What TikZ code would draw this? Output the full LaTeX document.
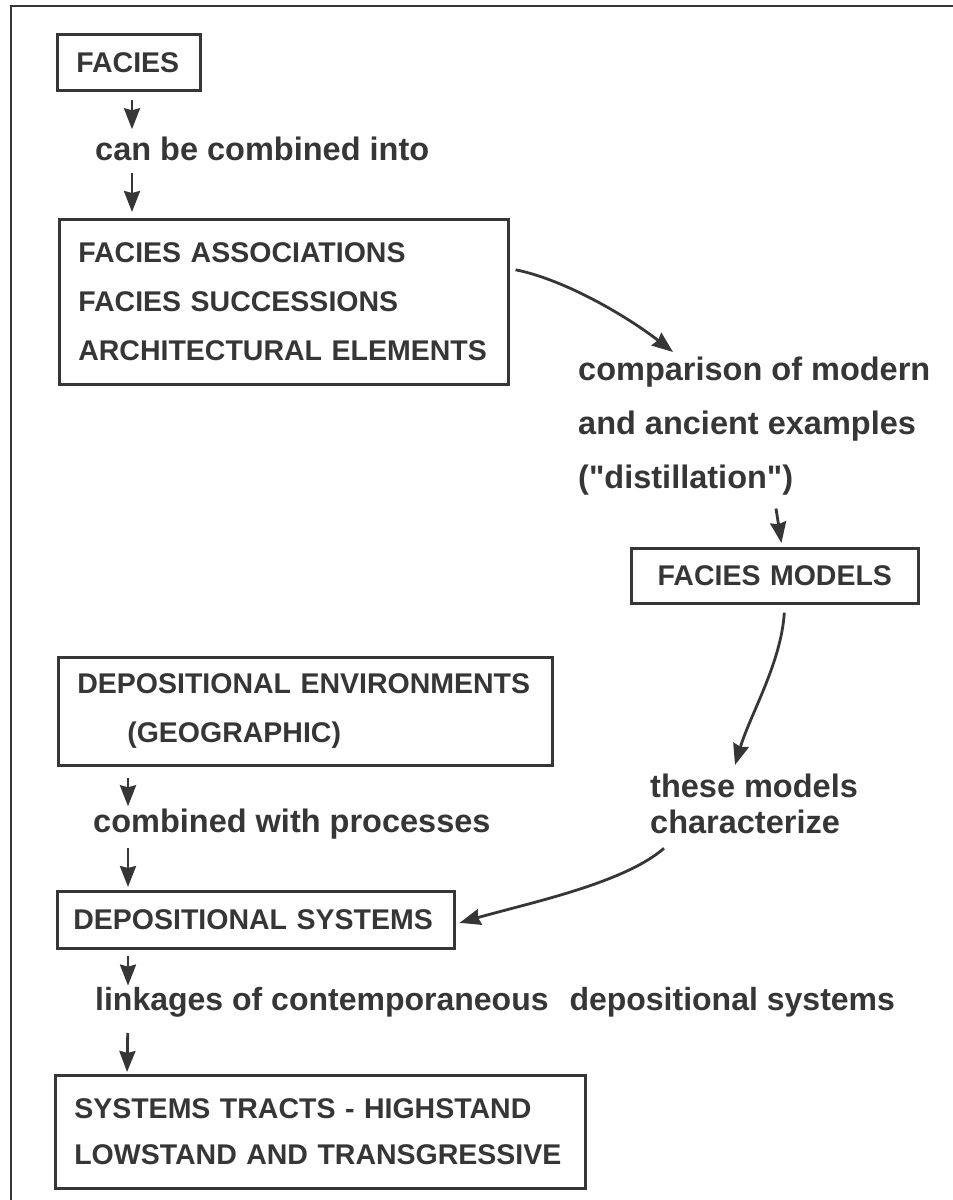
\documentclass[tikz,border=0pt]{standalone}
\usepackage{fontspec}
\setmainfont{Liberation Sans}
\usetikzlibrary{arrows.meta,positioning}
\definecolor{ink}{HTML}{363636}

\begin{document}
\begin{tikzpicture}[
  x=1pt, y=-1pt,
  every node/.style={text=ink},
  stagebox/.style={rectangle, draw=ink, line width=2.6pt, anchor=north west,
    inner xsep=19pt, inner ysep=0pt, align=left,
    execute at begin node={\hyphenpenalty=10000\exhyphenpenalty=10000},
    font=\fontsize{28.5}{49}\selectfont\bfseries},
  steplabel/.style={inner sep=0pt, align=left,
    font=\fontsize{32.5}{54}\selectfont\bfseries},
  arrow/.style={-{Stealth[length=21pt,width=16pt,inset=2pt]}, line width=2.8pt, draw=ink},
  frameline/.style={line width=2.4pt, draw=ink},
]
\useasboundingbox (0,0) rectangle (953,1200);
\draw[frameline] (11,1200) -- (11,6) -- (953,6);

% Boxes
\node[stagebox, text width=105pt, minimum height=56pt] (facies) at (56,33) {FACIES};
\node[stagebox, text width=411pt, minimum height=165pt] (assoc) at (58,218)
  {FACIES ASSOCIATIONS\\FACIES SUCCESSIONS\\ARCHITECTURAL ELEMENTS};
\node[stagebox, text width=249pt, minimum height=55pt, align=center] (fmodels) at (630,547) {FACIES MODELS};
\node[stagebox, text width=456pt, minimum height=108pt] (depenv) at (57,656)
  {DEPOSITIONAL ENVIRONMENTS\\\hspace*{50pt}(GEOGRAPHIC)};
\node[stagebox, text width=365pt, inner xsep=16pt, minimum height=57pt] (depsys) at (56,890) {DEPOSITIONAL SYSTEMS};
\node[stagebox, text width=492pt, minimum height=113pt, font=\fontsize{28.5}{46}\selectfont\bfseries] (tracts) at (54,1074)
  {SYSTEMS TRACTS - HIGHSTAND\\LOWSTAND AND TRANSGRESSIVE};

% Labels
\node[steplabel, anchor=base west] (lblcombine) at (95,160) {can be combined into};
\node[steplabel, anchor=north west] (lblcompare) at (578,357)
  {comparison of modern\\and ancient examples\\(\textquotedbl distillation\textquotedbl)};
\node[steplabel, anchor=north west, font=\fontsize{32.5}{36}\selectfont\bfseries] (lblchar) at (650,774)
  {these models\\characterize};
\node[steplabel, anchor=base west] (lblprocess) at (93,832) {combined with processes};
\node[steplabel, anchor=base west, font=\fontsize{32}{36}\selectfont\bfseries] (lbllink) at (95,1010)
  {linkages of contemporaneous\hspace{12pt} depositional systems};

% Arrows
\draw[arrow, shorten <=8pt, shorten >=7pt] ([xshift=76pt]facies.south west) -- ([xshift=37pt]lblcombine.north west);
\draw[arrow, shorten <=12pt, shorten >=6pt] ([xshift=37pt]lblcombine.south west) -- ([xshift=74pt]assoc.north west);
\draw[arrow] ([xshift=6pt,yshift=32pt]assoc.east) .. controls +(50,10) and +(-45,-35) .. ([xshift=95pt,yshift=5pt]lblcompare.north west);
\draw[arrow, shorten <=13pt, shorten >=4pt] ([xshift=196pt]lblcompare.south west) -- ([xshift=152pt]fmodels.north west);
\draw[arrow] ([xshift=9.5pt,yshift=-8pt]fmodels.south) .. controls +(-3,50) and +(15,-50) .. ([xshift=85pt,yshift=9pt]lblchar.north west);
\draw[arrow] ([xshift=14pt,yshift=-14pt]lblchar.south west) .. controls +(-40,35) and +(70,-20) .. ([xshift=4pt,yshift=-3pt]depsys.east);
\draw[arrow, shorten <=11pt, shorten >=2pt] ([xshift=71pt]depenv.south west) -- ([xshift=35pt]lblprocess.north west);
\draw[arrow, shorten <=9pt, shorten >=3pt] ([xshift=35pt]lblprocess.south west) -- ([xshift=72pt]depsys.north west);
\draw[arrow, shorten <=6pt, shorten >=1pt] ([xshift=72pt]depsys.south west) -- ([xshift=33pt]lbllink.north west);
\draw[arrow, shorten <=16pt, shorten >=2pt] ([xshift=33pt]lbllink.south west) -- ([xshift=73pt]tracts.north west);
\end{tikzpicture}
\end{document}
